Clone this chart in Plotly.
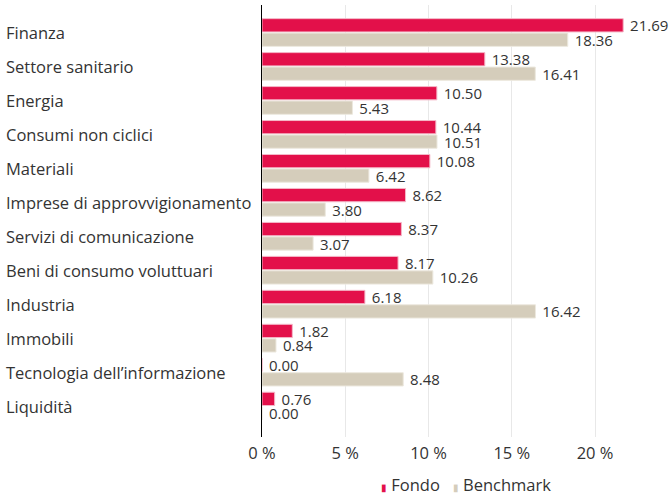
import plotly.graph_objects as go

categories = ["Finanza", "Settore sanitario", "Energia", "Consumi non ciclici", "Materiali",
              "Imprese di approvvigionamento", "Servizi di comunicazione",
              "Beni di consumo voluttuari", "Industria", "Immobili",
              "Tecnologia dell\u2019informazione", "Liquidità"]
fondo = [21.69, 13.38, 10.50, 10.44, 10.08, 8.62, 8.37, 8.17, 6.18, 1.82, 0.00, 0.76]
benchmark = [18.36, 16.41, 5.43, 10.51, 6.42, 3.80, 3.07, 10.26, 16.42, 0.84, 8.48, 0.00]
tick_vals = [0, 5, 10, 15, 20]
tick_text = ["0 %", "5 %", "10 %", "15 %", "20 %"]
series_names = ["Fondo", "Benchmark"]

RED = "#e3104a"
BEIGE = "#d5cdbb"
FONT = "Open Sans"
TXT = "#333333"

fig = go.Figure()
fig.add_trace(go.Bar(y=categories, x=fondo, orientation="h", name=series_names[0],
                     marker=dict(color=RED, line=dict(color="#f4b8c8", width=1)),
                     text=[f"\u00a0{v:.2f}" for v in fondo], textposition="outside",
                     constraintext="none",
                     textfont=dict(family=FONT, size=15, color=TXT),
                     cliponaxis=False, showlegend=False))
fig.add_trace(go.Bar(y=categories, x=benchmark, orientation="h", name=series_names[1],
                     marker=dict(color=BEIGE, line=dict(color="#ece8de", width=1)),
                     text=[f"\u00a0{v:.2f}" for v in benchmark], textposition="outside",
                     constraintext="none",
                     textfont=dict(family=FONT, size=15, color=TXT),
                     cliponaxis=False, showlegend=False))

for c in categories:
    fig.add_annotation(x=-258/408, xref="paper", y=c, yref="y", text=c,
                       xanchor="left", showarrow=False,
                       font=dict(family=FONT, size=16.5, color=TXT))

# legend
legend_text = (f"<span style='color:{RED};font-size:10px'>\u25AE</span> {series_names[0]}"
               f"&nbsp;&nbsp; <span style='color:{BEIGE};font-size:10px'>\u25AE</span> {series_names[1]}")
fig.add_annotation(x=0.5, xref="paper", y=-47/432, yref="paper", yanchor="middle",
                   xanchor="center", text=legend_text, showarrow=False,
                   font=dict(family=FONT, size=16.5, color=TXT))

fig.update_layout(
    width=670, height=496,
    margin=dict(l=262, r=0, t=5, b=59, autoexpand=False),
    plot_bgcolor="white", paper_bgcolor="white",
    barmode="group", bargap=0.15, bargroupgap=0.08,
    font=dict(family=FONT, size=15, color=TXT),
    showlegend=False,
    xaxis=dict(range=[0, 24.5], tickvals=tick_vals, ticktext=tick_text,
               showgrid=True, gridcolor="#e8e8e8", gridwidth=1, zeroline=False,
               showline=False, ticklabelstandoff=4,
               tickfont=dict(family=FONT, size=16.5, color=TXT)),
    yaxis=dict(categoryorder="array", categoryarray=categories,
               range=[11.91, -0.81], showticklabels=False, showgrid=False,
               showline=True, linecolor="black", linewidth=1, zeroline=False),
)

fig.write_html("out.html", config={"displayModeBar": False},
               post_script="document.body.style.margin='0';")
